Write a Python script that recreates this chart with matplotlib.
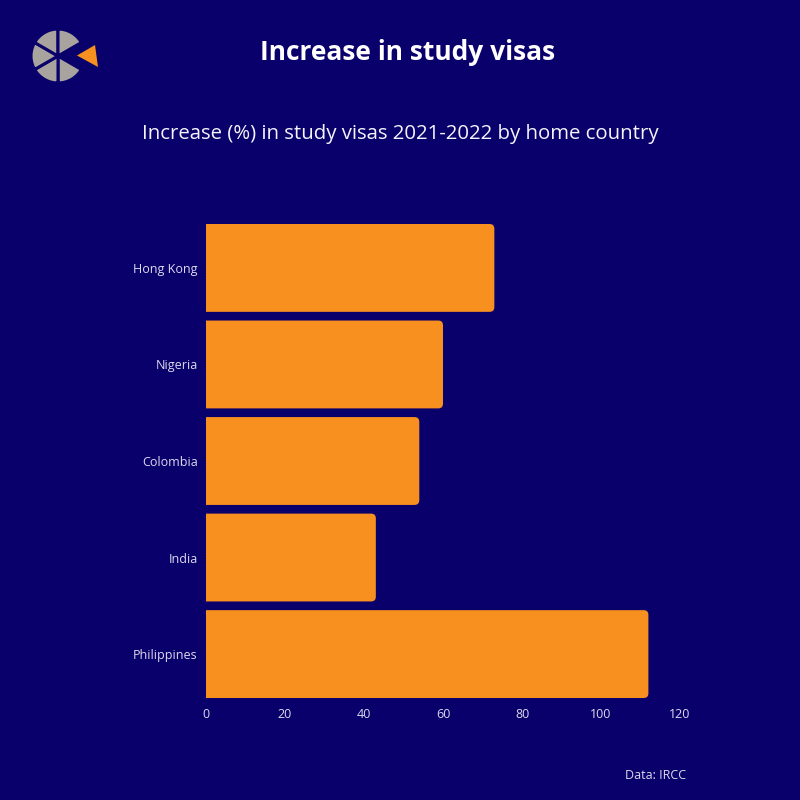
import matplotlib
matplotlib.use("Agg")
import matplotlib.pyplot as plt
from matplotlib.patches import FancyBboxPatch, Wedge, Polygon
import numpy as np

countries = ["Hong Kong", "Nigeria", "Colombia", "India", "Philippines"]
increase = [73, 60, 54, 43, 112]
xticks = [0, 20, 40, 60, 80, 100, 120]

BG = "#0a006b"
BAR = "#f7901e"
TXT = "#dcdaee"

plt.rcParams['font.family'] = ['Open Sans', 'DejaVu Sans']

fig = plt.figure(figsize=(8, 8), dpi=100, facecolor=BG)
ax = fig.add_axes([0.2575, 0.1275, 0.5925, 0.5925], facecolor=BG)

ypos = np.arange(len(countries))[::-1]
bars = ax.barh(ypos, increase, height=0.91, color=BAR)
ax.set_xlim(0, 120)
ax.set_ylim(-0.455, 4.455)

# rounded right corners
xpx = 0.5925 * 800 / 120
ypx = 0.5925 * 800 / 4.91
r = 1.2
for b in bars:
    x0, y0 = b.get_x(), b.get_y()
    w, h = b.get_width(), b.get_height()
    b.set_visible(False)
    p = FancyBboxPatch((x0 - 3, y0), w + 3, h,
                       boxstyle=f"round,pad=0,rounding_size={r}",
                       mutation_aspect=xpx / ypx,
                       facecolor=BAR, edgecolor="none", clip_on=True)
    ax.add_patch(p)

ax.set_yticks(ypos)
ax.set_yticklabels(countries)
ax.set_xticks(xticks)
ax.set_xticklabels([str(t) for t in xticks])
ax.tick_params(axis='both', length=0, colors=TXT, labelsize=9)
ax.tick_params(axis='y', pad=6)
ax.tick_params(axis='x', pad=7)
for s in ax.spines.values():
    s.set_visible(False)

fig.text(0.51, 0.934, "Increase in study visas", ha='center', va='center',
         fontsize=19, fontweight='bold', color='white')
fig.text(0.5, 0.832, "Increase (%) in study visas 2021-2022 by home country",
         ha='center', va='center', fontsize=14.7, color='#f4f4fa')
fig.text(0.82, 0.031, "Data: IRCC", ha='center', va='center',
         fontsize=9, color=TXT)

# logo (axes in pixel units)
lax = fig.add_axes([20 / 800, 1 - 100 / 800, 100 / 800, 80 / 800], facecolor='none')
lax.set_xlim(20, 120)
lax.set_ylim(100, 20)
lax.set_aspect('equal')
lax.axis('off')
GRAY = "#a9a39f"
for start in [30, 90, 150, 210, 270]:
    lax.add_patch(Wedge((58, 56), 27, start, start + 60, facecolor=GRAY,
                        edgecolor=BG, linewidth=2.2))
lax.add_patch(Polygon([[77, 55.5], [95, 45], [98, 67]], closed=True,
                      facecolor=BAR, edgecolor='none'))

fig.savefig("out.png", dpi=100, facecolor=BG)
